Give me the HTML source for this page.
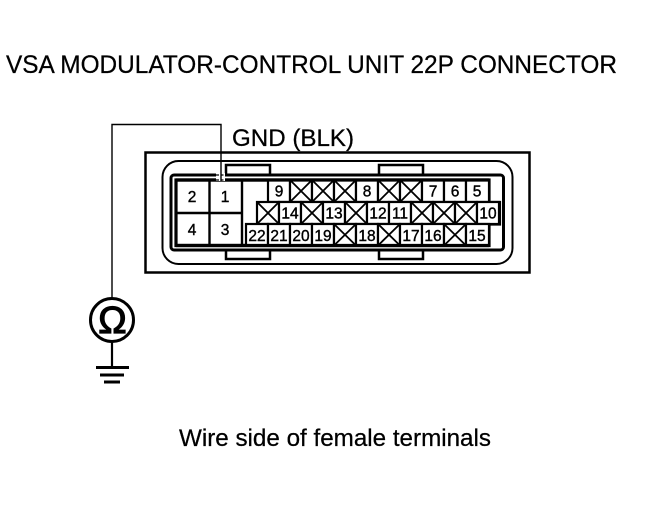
<!DOCTYPE html>
<html><head><meta charset="utf-8"><style>
html,body{margin:0;padding:0;background:#fff;width:672px;height:528px;overflow:hidden}
svg{display:block}
text{font-family:"Liberation Sans",sans-serif;fill:#000}
.t{stroke:#000;stroke-width:.25}
.n{font-size:15.5px;text-anchor:middle;stroke:#000;stroke-width:.4}
.x{stroke:#000;stroke-width:1.8;fill:none}
.c{fill:#fff;stroke:#000;stroke-width:2.200}
</style></head><body>
<svg width="672" height="528" viewBox="0 0 672 528" xmlns="http://www.w3.org/2000/svg">
<text class="t" x="6" y="73" font-size="25" textLength="611" lengthAdjust="spacingAndGlyphs">VSA MODULATOR-CONTROL UNIT 22P CONNECTOR</text>
<text class="t" x="232" y="146" font-size="24" textLength="122" lengthAdjust="spacingAndGlyphs">GND (BLK)</text>
<text class="t" x="179" y="446" font-size="24" textLength="312" lengthAdjust="spacingAndGlyphs">Wire side of female terminals</text>

<rect x="145.500" y="152.500" width="384" height="120" fill="#fff" stroke="#000" stroke-width="2.500"/>
<rect x="226" y="165" width="44" height="94" fill="#fff" stroke="#000" stroke-width="2.500"/>
<rect x="379" y="165" width="44" height="94" fill="#fff" stroke="#000" stroke-width="2.500"/>
<rect x="162.500" y="161" width="350" height="103" rx="16" fill="none" stroke="#000" stroke-width="2"/>
<rect x="171" y="175" width="332.500" height="75" rx="3" fill="#fff" stroke="#000" stroke-width="3"/>
<path d="M176 180H489V202.500H499.500V224H489V245.500H176Z" fill="#fff" stroke="#000" stroke-width="3.200"/>

<path d="M176 213H242M209.500 180V245.500M242 180V245.500" fill="none" stroke="#000" stroke-width="2.400"/>

<g>
<rect class="c" x="268" y="180" width="22" height="22"/><rect class="c" x="290" y="180" width="22" height="22"/><rect class="c" x="312" y="180" width="22" height="22"/><rect class="c" x="334" y="180" width="22" height="22"/><rect class="c" x="356" y="180" width="22" height="22"/><rect class="c" x="378" y="180" width="22" height="22"/><rect class="c" x="400" y="180" width="22" height="22"/><rect class="c" x="422" y="180" width="22" height="22"/><rect class="c" x="444" y="180" width="22" height="22"/><rect class="c" x="466" y="180" width="23" height="22"/>
<rect class="c" x="257" y="202" width="22" height="22"/><rect class="c" x="279" y="202" width="22" height="22"/><rect class="c" x="301" y="202" width="22" height="22"/><rect class="c" x="323" y="202" width="22" height="22"/><rect class="c" x="345" y="202" width="22" height="22"/><rect class="c" x="367" y="202" width="22" height="22"/><rect class="c" x="389" y="202" width="22" height="22"/><rect class="c" x="411" y="202" width="22" height="22"/><rect class="c" x="433" y="202" width="22" height="22"/><rect class="c" x="455" y="202" width="22" height="22"/><rect class="c" x="477" y="202" width="22" height="22"/>
<rect class="c" x="246" y="224" width="22" height="21.500"/><rect class="c" x="268" y="224" width="22" height="21.500"/><rect class="c" x="290" y="224" width="22" height="21.500"/><rect class="c" x="312" y="224" width="22" height="21.500"/><rect class="c" x="334" y="224" width="22" height="21.500"/><rect class="c" x="356" y="224" width="22" height="21.500"/><rect class="c" x="378" y="224" width="22" height="21.500"/><rect class="c" x="400" y="224" width="22" height="21.500"/><rect class="c" x="422" y="224" width="22" height="21.500"/><rect class="c" x="444" y="224" width="22" height="21.500"/><rect class="c" x="466" y="224" width="23" height="21.500"/>
</g>
<path d="M176 180H489M176 245.500H489" stroke="#000" stroke-width="3.200" fill="none"/>
<path class="x" d="M290 180l22 22m0-22l-22 22M312 180l22 22m0-22l-22 22M334 180l22 22m0-22l-22 22M378 180l22 22m0-22l-22 22M400 180l22 22m0-22l-22 22M257 202l22 22m0-22l-22 22M301 202l22 22m0-22l-22 22M345 202l22 22m0-22l-22 22M411 202l22 22m0-22l-22 22M433 202l22 22m0-22l-22 22M455 202l22 22m0-22l-22 22M334 224l22 21.500m0-21.500l-22 21.500M378 224l22 21.500m0-21.500l-22 21.500M444 224l22 21.500m0-21.500l-22 21.500"/>

<text class="n" x="192" y="202">2</text><text class="n" x="225" y="202">1</text><text class="n" x="192" y="235">4</text><text class="n" x="225" y="235">3</text>
<text class="n" x="279" y="196.500">9</text><text class="n" x="367" y="196.500">8</text><text class="n" x="433" y="196.500">7</text><text class="n" x="455" y="196.500">6</text><text class="n" x="477" y="196.500">5</text>
<text class="n" x="290" y="218.500">14</text><text class="n" x="334" y="218.500">13</text><text class="n" x="378" y="218.500">12</text><text class="n" x="400" y="218.500">11</text><text class="n" x="488" y="218.500">10</text>
<text class="n" x="257" y="241">22</text><text class="n" x="279" y="241">21</text><text class="n" x="301" y="241">20</text><text class="n" x="323" y="241">19</text><text class="n" x="367" y="241">18</text><text class="n" x="411" y="241">17</text><text class="n" x="433" y="241">16</text><text class="n" x="477" y="241">15</text>

<rect x="216" y="173" width="9" height="8" fill="#fff"/>
<path d="M216 175H225M216 180H225" stroke="#000" stroke-width="1.200" stroke-dasharray="3 1.500" fill="none"/>
<path d="M112 298V124.500H221V181" fill="none" stroke="#000" stroke-width="1.400"/>

<circle cx="112" cy="320" r="21.500" fill="#fff" stroke="#000" stroke-width="3"/>
<text x="112.500" y="333" font-size="38" text-anchor="middle" style="stroke:#000;stroke-width:1.200">Ω</text>
<path d="M112 342V366" stroke="#000" stroke-width="2.200" fill="none"/>
<path d="M96 367.500H129M100 375H124M104 382H120" stroke="#000" stroke-width="3" fill="none"/>
</svg>
</body></html>
